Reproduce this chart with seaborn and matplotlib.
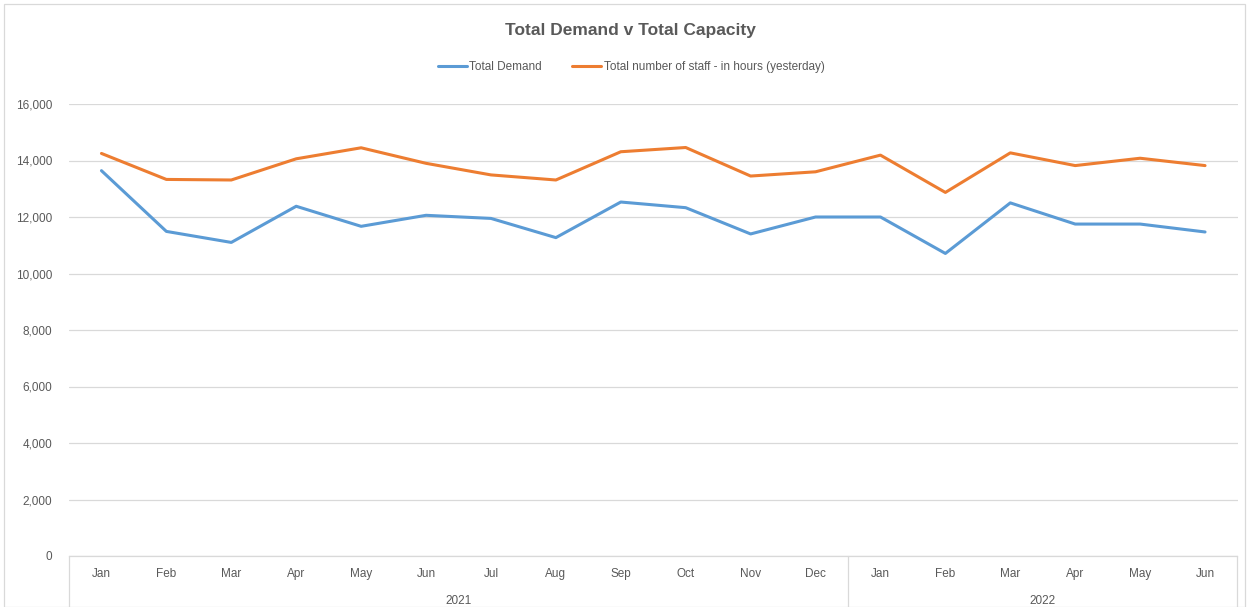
import matplotlib
matplotlib.use("Agg")
import matplotlib.pyplot as plt
import seaborn as sns
import pandas as pd
from matplotlib.ticker import FuncFormatter
from matplotlib.lines import Line2D

# data
months = ["Jan", "Feb", "Mar", "Apr", "May", "Jun", "Jul", "Aug", "Sep", "Oct", "Nov", "Dec",
          "Jan", "Feb", "Mar", "Apr", "May", "Jun"]
years = ["2021"] * 12 + ["2022"] * 6
total_demand = [13640, 11490, 11100, 12380, 11670, 12060, 11950, 11270, 12530, 12330, 11400, 12000,
                12000, 10710, 12500, 11750, 11750, 11470]
total_staff_hours = [14250, 13330, 13310, 14060, 14450, 13900, 13490, 13310, 14310, 14460, 13450, 13600,
                     14190, 12870, 14270, 13820, 14080, 13820]

DEMAND = "Total Demand"
STAFF = "Total number of staff - in hours (yesterday)"

COLORS = {
    "blue": "#5B9BD5",
    "orange": "#ED7D31",
    "text": "#595959",
    "grid": "#D9D9D9",
}

sns.set_theme(style="white")
plt.rcParams["font.family"] = ["Liberation Sans", "DejaVu Sans"]

n = len(months)
df = pd.DataFrame({
    "pos": list(range(n)) * 2,
    "value": total_demand + total_staff_hours,
    "series": [DEMAND] * n + [STAFF] * n,
})

fig = plt.figure(figsize=(12.49, 6.07), dpi=100)
ax = fig.add_axes([69 / 1249, 51 / 607, (1237.5 - 69) / 1249, (556 - 104) / 607])

sns.lineplot(data=df, x="pos", y="value", hue="series",
             palette={DEMAND: COLORS["blue"], STAFF: COLORS["orange"]},
             linewidth=2.2, legend=False, ax=ax)

ax.set_xlim(-0.5, n - 0.5)
ax.set_ylim(0, 16000)
ax.set_yticks(range(0, 16001, 2000))
ax.yaxis.set_major_formatter(FuncFormatter(lambda v, p: f"{int(v):,}"))
ax.set_xticks(range(n))
ax.set_xticklabels(months)
ax.tick_params(axis="both", length=0, colors=COLORS["text"], labelsize=8.5)
ax.tick_params(axis="x", pad=15)
ax.tick_params(axis="y", pad=12)
for lab in ax.get_xticklabels():
    lab.set_verticalalignment("baseline")
ax.set_xlabel("")
ax.set_ylabel("")

ax.grid(axis="y", color=COLORS["grid"], linewidth=0.9)
ax.grid(axis="x", visible=False)
for side in ["top", "right", "left"]:
    ax.spines[side].set_visible(False)
ax.spines["bottom"].set_color(COLORS["grid"])
ax.spines["bottom"].set_linewidth(0.9)

# year group labels and separators below the month labels
trans = ax.get_xaxis_transform()
for xb in [-0.5, 11.5, n - 0.5]:
    ax.add_line(Line2D([xb, xb], [0, -0.115], transform=trans, color=COLORS["grid"],
                       linewidth=0.9, clip_on=False))
ax.text(5.5, -0.1, "2021", transform=trans, ha="center", va="center",
        fontsize=8.5, color=COLORS["text"])
ax.text(14.5, -0.1, "2022", transform=trans, ha="center", va="center",
        fontsize=8.5, color=COLORS["text"])

fig.text(630 / 1249, 1 - 31 / 607, "Total Demand v Total Capacity", ha="center", va="center",
         fontsize=12.5, fontweight="bold", color=COLORS["text"])

handles = [Line2D([], [], color=COLORS["blue"], linewidth=2.2),
           Line2D([], [], color=COLORS["orange"], linewidth=2.2)]
fig.legend(handles, [DEMAND, STAFF], loc="center", bbox_to_anchor=(631 / 1249, 1 - 67 / 607),
           ncol=2, frameon=False, fontsize=8.5, handlelength=2.5, handletextpad=0.2,
           columnspacing=2.5, labelcolor=COLORS["text"])

# outer chart border
fig.add_artist(plt.Rectangle((4 / 1249, 0), 1 - 8 / 1249, 1 - 4 / 607, transform=fig.transFigure,
                             fill=False, edgecolor=COLORS["grid"], linewidth=0.9))

fig.savefig("out.png", dpi=100, facecolor="white")
plt.close(fig)
